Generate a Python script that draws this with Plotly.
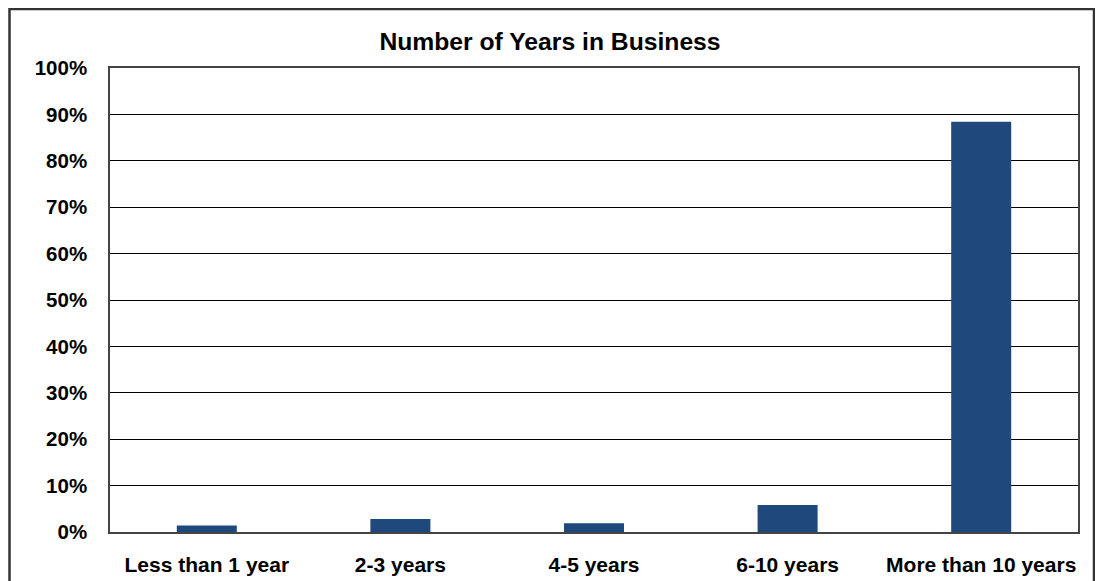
import plotly.graph_objects as go

categories = ["Less than 1 year", "2-3 years", "4-5 years", "6-10 years", "More than 10 years"]
values = [1.4, 2.8, 1.9, 5.8, 88.4]
y_ticks = [0, 10, 20, 30, 40, 50, 60, 70, 80, 90, 100]
y_tick_labels = [f"{v}%" for v in y_ticks]

FONT = "Liberation Sans, Arial, sans-serif"
OFF = 8  # page body margin

fig = go.Figure(
    go.Bar(
        x=categories,
        y=values,
        marker=dict(color="#1F497D", line=dict(width=0)),
        hoverinfo="x+y",
    )
)

W, H = 1103, 581
# target plot area on screen: x 110..1078, y 68..532
L = 110 - OFF
T = 68 - OFF
R = OFF + W - 1078
B = OFF + H - 532
pw = W - L - R
ph = H - T - B

fig.update_layout(
    width=W,
    height=H,
    margin=dict(l=L, r=R, t=T, b=B, pad=0),
    paper_bgcolor="white",
    plot_bgcolor="white",
    bargap=0.69,
    showlegend=False,
    font=dict(family=FONT, size=21, color="black", weight="bold"),
    title=dict(
        text="<b>Number of Years in Business</b>",
        x=(550 - OFF) / W,
        xref="container",
        xanchor="center",
        y=1 - (41 - OFF) / H,
        yanchor="middle",
        font=dict(family=FONT, size=24.7, color="black"),
    ),
    xaxis=dict(
        showgrid=False,
        showline=True,
        linecolor="#444444",
        linewidth=1.5,
        mirror=True,
        ticks="",
        tickfont=dict(family=FONT, size=21, color="black", weight="bold"),
        ticklabelstandoff=13,
    ),
    yaxis=dict(
        range=[0, 100],
        tickvals=y_ticks,
        ticktext=y_tick_labels,
        showgrid=True,
        gridcolor="black",
        gridwidth=1,
        showline=True,
        linecolor="#444444",
        linewidth=1.5,
        mirror=True,
        ticks="",
        zeroline=False,
        tickfont=dict(family=FONT, size=20.5, color="black", weight="bold"),
        ticklabelstandoff=17,
        fixedrange=True,
    ),
    shapes=[
        dict(
            type="rect",
            xref="paper",
            yref="paper",
            x0=(1.5 - L) / pw,
            x1=(1094 - OFF - L) / pw,
            y0=(H - T - 600) / ph,
            y1=(H - B - (9 - OFF)) / ph,
            line=dict(color="#333333", width=2.5),
            fillcolor="rgba(0,0,0,0)",
            layer="above",
        )
    ],
)

fig.write_html("out.html")
